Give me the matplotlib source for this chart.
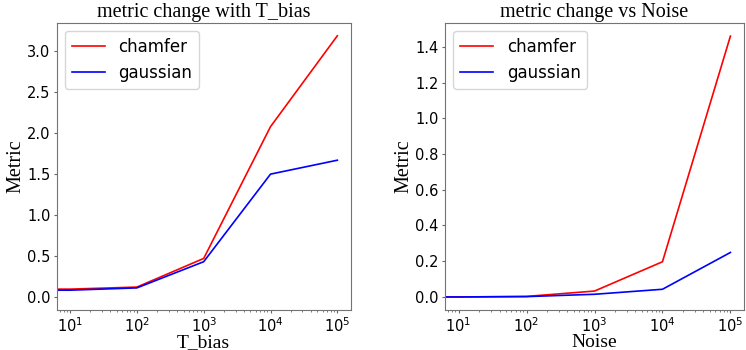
import matplotlib
matplotlib.use('Agg')
from matplotlib import pyplot as plt

# x positions (0 is the unbiased baseline; it falls off the log axis)
t_bias = [0, 10, 100, 1000, 10000, 100000]
noise = [0, 10, 100, 1000, 10000, 100000]

chamfer_tbias = [0.0, 0.095, 0.12, 0.47, 2.08, 3.19]
gaussian_tbias = [0.0, 0.082, 0.11, 0.43, 1.50, 1.67]

chamfer_noise = [0.0, 0.0, 0.003, 0.033, 0.197, 1.46]
gaussian_noise = [0.0, 0.0, 0.002, 0.015, 0.043, 0.249]

serif = ['Liberation Serif', 'DejaVu Serif']

fig = plt.figure(figsize=(7.46, 3.5), dpi=100)
ax1 = fig.add_axes([56.7 / 746, 40 / 350, 294 / 746, 287.3 / 350])
ax2 = fig.add_axes([445 / 746, 40 / 350, 299 / 746, 287.3 / 350])

panels = [
    (ax1, t_bias, chamfer_tbias, gaussian_tbias, 'metric change with T_bias', 'T_bias', (-0.16, 3.35)),
    (ax2, noise, chamfer_noise, gaussian_noise, 'metric change vs Noise', 'Noise', (-0.073, 1.535)),
]

for ax, x, ch, ga, title, xlabel, ylim in panels:
    ax.plot(x, ch, color='red', lw=1.2, label='chamfer')
    ax.plot(x, ga, color='blue', lw=1.2, label='gaussian')
    ax.set_xscale('log')
    ax.set_xlim(10 ** 0.8, 10 ** 5.2)
    ax.set_ylim(*ylim)
    ax.set_title(title, family=serif, fontsize=14.5, pad=4)
    ax.set_xlabel(xlabel, family=serif, fontsize=14, labelpad=-0.5)
    ax.set_ylabel('Metric', family=serif, fontsize=14.5, labelpad=1)
    ax.tick_params(which='major', labelsize=10.5, length=2.5, pad=2, color='0.4')
    ax.tick_params(which='minor', length=1.5, color='0.4')
    for sp in ax.spines.values():
        sp.set_color('0.45')
    ax.legend(loc='upper left', fontsize=12)

fig.savefig('out.png', dpi=100)
